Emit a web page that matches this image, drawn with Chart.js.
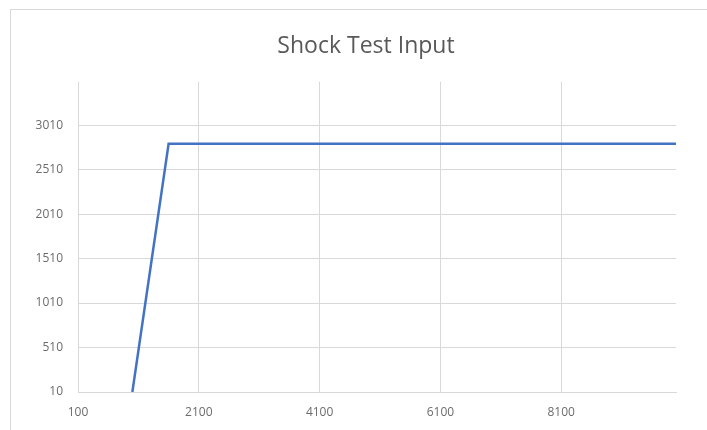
<!DOCTYPE html>
<html lang="en">
<head>
    <meta charset="UTF-8">
    <title>Shock Test Input</title>
    <script src="https://cdn.jsdelivr.net/npm/chart.js"></script>
    <style>
        html, body { margin: 0; padding: 0; background: #fff; overflow: hidden; }
        #frame { position: absolute; left: 10px; top: 9px; width: 730px; height: 460px; border: 1px solid #d9d9d9; }
        #wrap { position: absolute; left: 0; top: 0; width: 707px; height: 430px; }
    </style>
</head>
<body>
<div id="frame"></div>
<div id="wrap"><canvas id="chart"></canvas></div>
<script>
    // shock profile: ramp up then hold
    const timeValues = [1000, 1600, 10000];
    const inputValues = [10, 2800, 2800];
    const xTicks = [100, 2100, 4100, 6100, 8100];
    const yTicks = [10, 510, 1010, 1510, 2010, 2510, 3010];

    const gridColor = '#d9d9d9';
    const textColor = '#6b6b6b';

    const points = timeValues.map((t, i) => ({x: t, y: inputValues[i]}));

    // nudge the title box so its text sits a bit right of the canvas centre
    const titleShift = {
        id: 'titleShift',
        afterLayout(chart) {
            const tb = chart.titleBlock;
            if (tb) {
                tb.left = 56;
                tb.right = 676;
                tb.width = tb.right - tb.left;
            }
        }
    };

    const config = {
        type: 'scatter',
        data: {
            datasets: [{
                label: 'Input',
                data: points,
                showLine: true,
                borderColor: '#4472c4',
                borderWidth: 2.5,
                pointRadius: 0,
                tension: 0
            }]
        },
        options: {
            responsive: false,
            animation: false,
            layout: {padding: {left: 0, right: 31, top: 0, bottom: 0}},
            plugins: {
                legend: {display: false},
                tooltip: {enabled: false},
                title: {
                    display: true,
                    text: 'Shock Test Input',
                    color: '#595959',
                    font: {family: 'Open Sans', size: 23, weight: 'normal'},
                    padding: {top: 33, bottom: 21}
                }
            },
            scales: {
                x: {
                    type: 'linear',
                    min: 100,
                    max: 10000,
                    afterBuildTicks: s => { s.ticks = xTicks.map(v => ({value: v})); },
                    afterFit: s => { s.height = 38; },
                    grid: {color: gridColor, drawTicks: false},
                    border: {color: gridColor},
                    ticks: {
                        color: textColor, padding: 13,
                        font: {family: 'Open Sans', size: 12},
                        callback: v => String(v)
                    }
                },
                y: {
                    type: 'linear',
                    min: 10,
                    max: 3500,
                    afterBuildTicks: s => { s.ticks = yTicks.map(v => ({value: v})); },
                    afterFit: s => { s.width = 78; },
                    grid: {color: gridColor, drawTicks: false},
                    border: {display: false},
                    ticks: {
                        color: textColor, padding: 15,
                        font: {family: 'Open Sans', size: 12},
                        callback: v => String(v)
                    }
                }
            }
        },
        plugins: [titleShift]
    };
    const canvas = document.getElementById('chart');
    canvas.width = 707;
    canvas.height = 430;
    const chart = new Chart(canvas, config);
</script>
</body>
</html>
